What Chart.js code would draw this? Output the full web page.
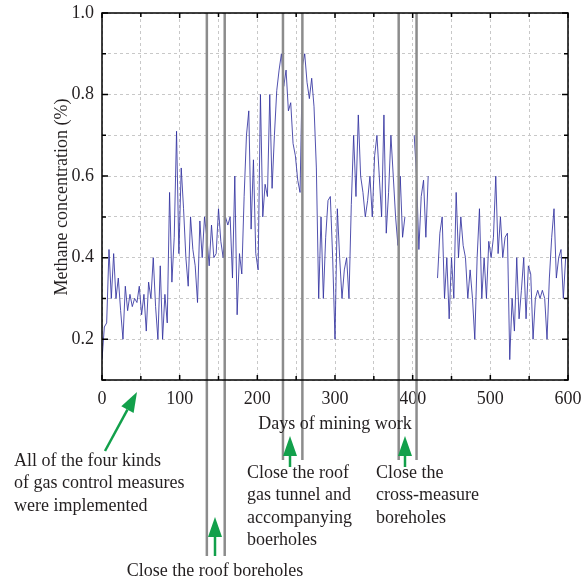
<!DOCTYPE html>
<html>
<head>
<meta charset="utf-8">
<script src="https://cdn.jsdelivr.net/npm/chart.js@4.4.1/dist/chart.umd.min.js"></script>
<style>
  html, body { margin: 0; padding: 0; background: #fff; }
  #wrap { position: relative; width: 581px; height: 584px; }
</style>
</head>
<body>
<div id="wrap"><canvas id="methaneChart"></canvas></div>
<script>
// methane concentration (%), one reading every 3 days from day 0
const sampleStep = 3;
const methane = [
    0.15, 0.23, 0.24, 0.42, 0.30, 0.41, 0.30, 0.35, 0.27, 0.20,
    0.33, 0.27, 0.31, 0.28, 0.30, 0.29, 0.33, 0.26, 0.31, 0.22,
    0.34, 0.30, 0.40, 0.28, 0.20, 0.38, 0.20, 0.31, 0.24, 0.56,
    0.34, 0.45, 0.71, 0.41, 0.62, 0.52, 0.40, 0.33, 0.50, 0.42,
    0.38, 0.29, 0.49, 0.40, 0.50, 0.45, 0.38, 0.48, 0.40, 0.41,
    0.52, 0.44, 0.40, 0.50, 0.48, 0.50, 0.35, 0.60, 0.26, 0.41,
    0.36, 0.55, 0.70, 0.76, 0.47, 0.64, 0.41, 0.37, 0.80, 0.50,
    0.58, 0.55, 0.80, 0.57, 0.70, 0.81, 0.86, 0.90, 0.82, 0.86,
    0.76, 0.78, 0.68, 0.65, 0.59, 0.56, 0.87, 0.90, 0.83, 0.79,
    0.84, 0.77, 0.62, 0.30, 0.50, 0.30, 0.45, 0.54, 0.55, 0.40,
    0.20, 0.52, 0.40, 0.30, 0.37, 0.40, 0.30, 0.53, 0.70, 0.55,
    0.75, 0.60, 0.56, 0.50, 0.54, 0.60, 0.50, 0.65, 0.70, 0.60,
    0.50, 0.75, 0.46, 0.56, 0.70, 0.60, 0.50, 0.43, 0.60, 0.45,
    0.50, null, null, null, 0.70, 0.60, 0.42, 0.55, 0.59, 0.45,
    0.60, null, null, null, 0.35, 0.46, 0.50, 0.30, 0.40, 0.25,
    0.40, 0.30, 0.56, 0.40, 0.50, 0.43, 0.40, 0.30, 0.37, 0.30,
    0.20, 0.40, 0.52, 0.30, 0.40, 0.30, 0.44, 0.40, 0.45, 0.60,
    0.41, 0.50, 0.40, 0.45, 0.46, 0.15, 0.30, 0.22, 0.40, 0.25,
    0.32, 0.40, 0.25, 0.38, 0.36, 0.20, 0.30, 0.32, 0.30, 0.32,
    0.30, 0.20, 0.35, 0.45, 0.52, 0.35, 0.40, 0.42, 0.30, 0.40
];

// days on which measures were closed (gray vertical lines)
const closeDays = [135, 158, 233, 258, 382, 405];

const xTicks = [0, 100, 200, 300, 400, 500, 600];
const yTicks = [0.2, 0.4, 0.6, 0.8, 1.0];

const points = methane.map(function (v, i) { return { x: i * sampleStep, y: v }; });

const serif = '"Liberation Serif", "DejaVu Serif", serif';
const ink = '#231f20';

const annotations = {
    id: 'annotations',
    afterDatasetsDraw: function (chart) {
        const ctx = chart.ctx;
        const a = chart.chartArea;
        const x = chart.scales.x;
        const y = chart.scales.y;
        ctx.save();

        // gray lines for closed measures, running below the axis
        const lineEnds = [556, 556, 460, 460, 460, 460];
        ctx.strokeStyle = '#8c8c8c';
        ctx.lineWidth = 2.5;
        closeDays.forEach(function (d, i) {
            const px = x.getPixelForValue(d);
            ctx.beginPath();
            ctx.moveTo(px, a.top);
            ctx.lineTo(px, lineEnds[i]);
            ctx.stroke();
        });

        // frame
        ctx.strokeStyle = '#000';
        ctx.lineWidth = 1.5;
        ctx.strokeRect(a.left, a.top, a.right - a.left, a.bottom - a.top);

        // inward ticks
        for (let d = 0; d <= 600; d += 50) {
            const px = x.getPixelForValue(d);
            const len = d % 100 === 0 ? 5 : 4;
            ctx.beginPath();
            ctx.moveTo(px, a.bottom); ctx.lineTo(px, a.bottom - len);
            ctx.moveTo(px, a.top); ctx.lineTo(px, a.top + len);
            ctx.stroke();
        }
        for (let k = 1; k <= 10; k++) {
            const py = y.getPixelForValue(k / 10);
            const len = k % 2 === 0 ? 6 : 4;
            ctx.beginPath();
            ctx.moveTo(a.left, py); ctx.lineTo(a.left + len, py);
            ctx.moveTo(a.right, py); ctx.lineTo(a.right - len, py);
            ctx.stroke();
        }

        // green arrows
        function arrow(x0, y0, x1, y1) {
            const ang = Math.atan2(y1 - y0, x1 - x0);
            const head = 20, half = 7;
            const bx = x1 - head * Math.cos(ang), by = y1 - head * Math.sin(ang);
            ctx.strokeStyle = '#12a04b';
            ctx.fillStyle = '#12a04b';
            ctx.lineWidth = 2.5;
            ctx.beginPath();
            ctx.moveTo(x0, y0); ctx.lineTo(bx, by);
            ctx.stroke();
            ctx.beginPath();
            ctx.moveTo(x1, y1);
            ctx.lineTo(bx + half * Math.sin(ang), by - half * Math.cos(ang));
            ctx.lineTo(bx - half * Math.sin(ang), by + half * Math.cos(ang));
            ctx.closePath();
            ctx.fill();
        }
        arrow(105, 451, 137, 392);
        arrow(215, 556, 215, 517);
        arrow(290, 467, 290, 436);
        arrow(405, 467, 405, 436);

        // texts
        ctx.fillStyle = ink;
        ctx.font = '18px ' + serif;
        ctx.textBaseline = 'middle';
        ctx.textAlign = 'center';
        ctx.fillText('Days of mining work', 335, 424);
        ctx.fillText('Close the roof boreholes', 215, 571);

        ctx.textAlign = 'left';
        ['All of the four kinds', 'of gas control measures', 'were implemented']
            .forEach(function (t, i) { ctx.fillText(t, 14, 461 + i * 22.5); });
        ['Close the roof', 'gas tunnel and', 'accompanying', 'boerholes']
            .forEach(function (t, i) { ctx.fillText(t, 247, 473 + i * 22.5); });
        ['Close the', 'cross-measure', 'boreholes']
            .forEach(function (t, i) { ctx.fillText(t, 376, 473 + i * 22.5); });

        ctx.translate(62, 197);
        ctx.rotate(-Math.PI / 2);
        ctx.textAlign = 'center';
        ctx.fillText('Methane concentration (%)', 0, 0);

        ctx.restore();
    }
};

new Chart(document.getElementById('methaneChart'), {
    type: 'line',
    data: {
        datasets: [{
            data: points,
            borderColor: 'rgba(50, 50, 160, 0.85)',
            borderWidth: 1,
            pointRadius: 0,
            tension: 0,
            spanGaps: false
        }]
    },
    options: {
        responsive: true,
        maintainAspectRatio: false,
        animation: false,
        layout: { padding: { top: 13, right: 13, left: 0, bottom: 0 } },
        plugins: { legend: { display: false }, tooltip: { enabled: false } },
        scales: {
            x: {
                type: 'linear',
                min: 0,
                max: 600,
                afterFit: function (scale) {
                    scale.height = 204;
                    scale.paddingLeft = 0;
                    scale.paddingRight = 0;
                },
                afterBuildTicks: function (scale) {
                    const t = [];
                    for (let d = 0; d <= 600; d += 50) t.push({ value: d });
                    scale.ticks = t;
                },
                grid: { color: '#c8c8c8', lineWidth: 1, drawTicks: false },
                border: { display: false, dash: [3, 3] },
                ticks: {
                    autoSkip: false,
                    maxRotation: 0,
                    padding: 8,
                    color: ink,
                    font: { family: serif, size: 18 },
                    callback: function (v) { return xTicks.indexOf(v) >= 0 ? String(v) : ''; }
                }
            },
            y: {
                min: 0.1,
                max: 1.0,
                afterFit: function (scale) {
                    scale.width = 102;
                    scale.paddingTop = 0;
                    scale.paddingBottom = 0;
                },
                afterBuildTicks: function (scale) {
                    const t = [];
                    for (let k = 1; k <= 10; k++) t.push({ value: k / 10 });
                    scale.ticks = t;
                },
                grid: { color: '#c8c8c8', lineWidth: 1, drawTicks: false },
                border: { display: false, dash: [3, 3] },
                ticks: {
                    autoSkip: false,
                    padding: 8,
                    color: ink,
                    font: { family: serif, size: 18 },
                    callback: function (v) {
                        const r = Math.round(v * 10) / 10;
                        return yTicks.indexOf(r) >= 0 ? r.toFixed(1) : '';
                    }
                }
            }
        }
    },
    plugins: [annotations]
});
</script>
</body>
</html>
